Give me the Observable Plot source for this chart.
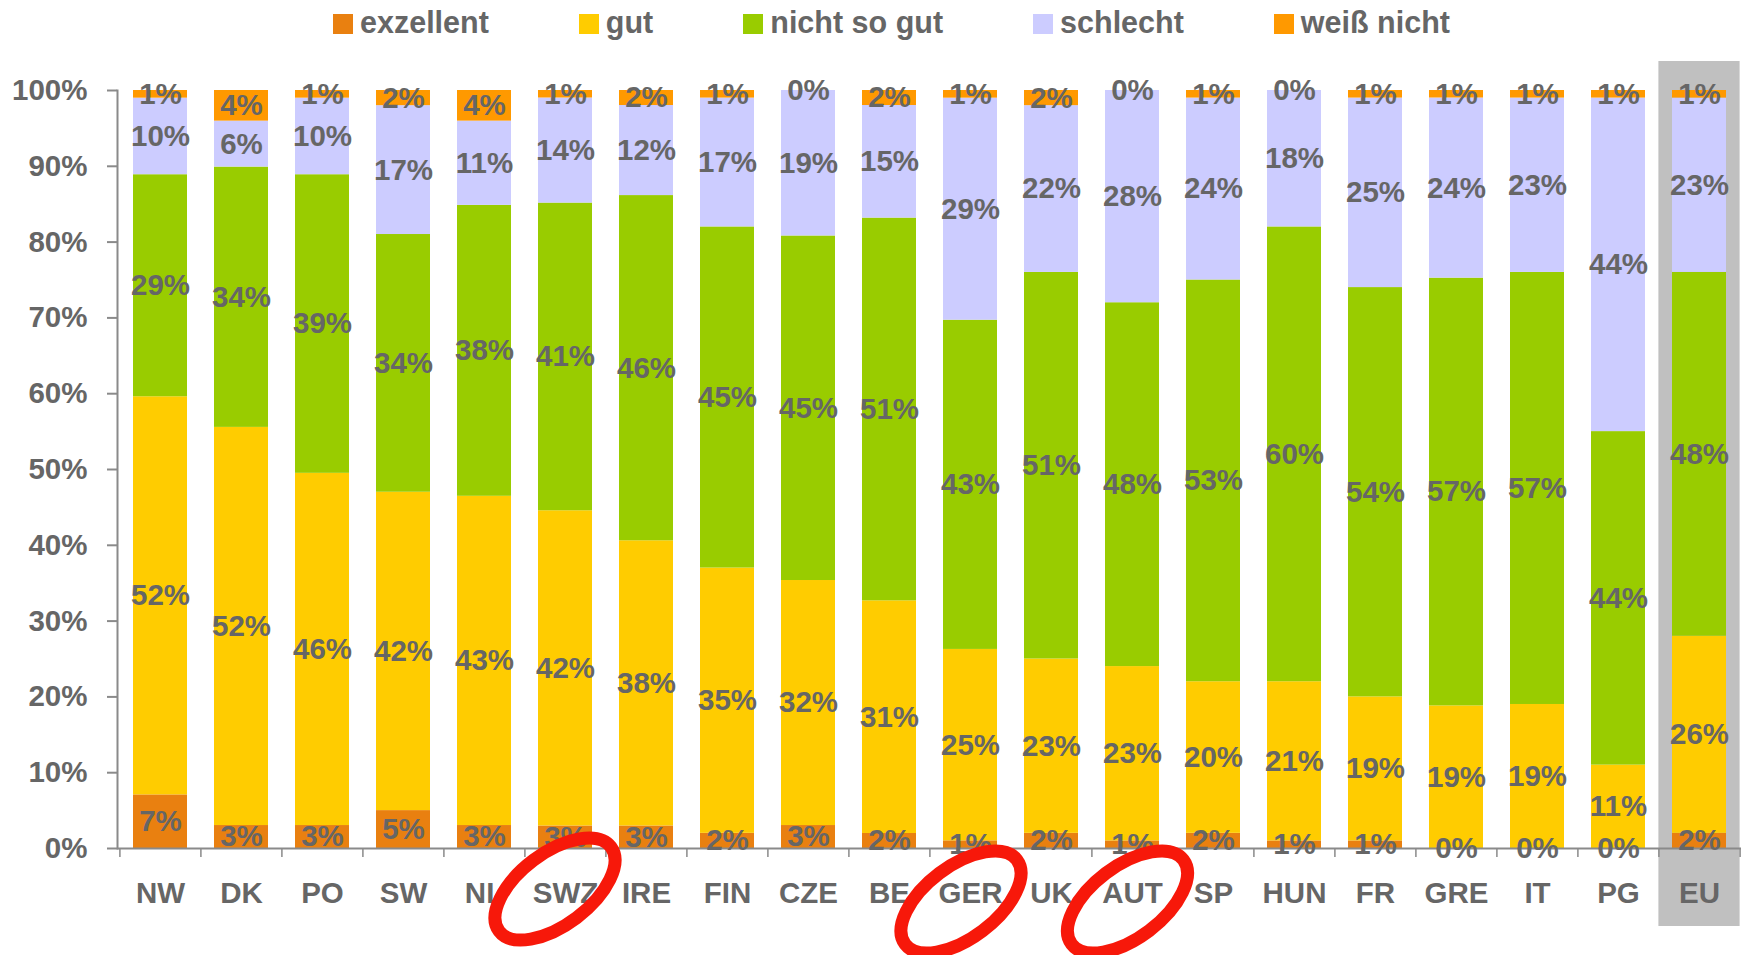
<!DOCTYPE html>
<html>
<head>
<meta charset="utf-8">
<script src="https://cdn.jsdelivr.net/npm/d3@7"></script>
<script src="https://cdn.jsdelivr.net/npm/@observablehq/plot@0.6"></script>
<style>
  body { margin: 0; background: #fff; font-family: "Liberation Sans", Arial, sans-serif; }
  #legend { position: relative; height: 45px; display: flex; align-items: center; padding-left: 333px; box-sizing: border-box; }
  .item { display: flex; align-items: center; margin-right: 90px; }
  .sw { width: 20px; height: 20px; margin-right: 7px; margin-top: 2px; }
  .lab { font-size: 30.5px; font-weight: bold; color: #666; white-space: nowrap; line-height: 1; }
  #chart svg { overflow: visible; display: block; }
</style>
</head>
<body>
<div id="legend"></div>
<div id="chart"></div>
<script>
// ---- data ----
const countries = ["NW","DK","PO","SW","NL","SWZ","IRE","FIN","CZE","BE","GER","UK","AUT","SP","HUN","FR","GRE","IT","PG","EU"];
const categories = ["exzellent","gut","nicht so gut","schlecht","weiß nicht"];
const exzellent  = [7, 3, 3, 5, 3, 3, 3, 2, 3, 2, 1, 2, 1, 2, 1, 1, 0, 0, 0, 2];
const gut        = [52,52,46,42,43,42,38,35,32,31,25,23,23,20,21,19,19,19,11,26];
const nichtSoGut = [29,34,39,34,38,41,46,45,45,51,43,51,48,53,60,54,57,57,44,48];
const schlecht   = [10, 6,10,17,11,14,12,17,19,15,29,22,28,24,18,25,24,23,44,23];
const weissNicht = [1, 4, 1, 2, 4, 1, 2, 1, 0, 2, 1, 2, 0, 1, 0, 1, 1, 1, 1, 1];
const yTicks = [0, 0.1, 0.2, 0.3, 0.4, 0.5, 0.6, 0.7, 0.8, 0.9, 1];
const highlightBand = ["EU"];
const circled = ["SWZ","GER","AUT"];

// ---- styles ----
const colors = ["#E98010","#FFCC00","#99CC00","#CCCCFF","#FF9900"];
const textColor = "#666666";
const axisColor = "#8a8a8a";
const font = '"Liberation Sans", Arial, sans-serif';

const series = [exzellent, gut, nichtSoGut, schlecht, weissNicht];
const data = countries.flatMap((c, i) => categories.map((k, j) => ({country: c, category: k, value: series[j][i]})));

// legend
const legend = d3.select("#legend");
categories.forEach((k, j) => {
  const it = legend.append("div").attr("class", "item");
  it.append("div").attr("class", "sw").style("background", colors[j]);
  it.append("div").attr("class", "lab").text(k);
});

const W = 1745, H = 910, mL = 117, mR = 4, mT = 45, mB = 107;
const step = (W - mL - mR) / countries.length;
const bw = 54;
const pad = 1 - bw / step;
const half = step / 2;
const grayInset = -(step - bw) / 2;

const plot = Plot.plot({
  width: W, height: H,
  marginLeft: mL, marginRight: mR, marginTop: mT, marginBottom: mB,
  style: {fontFamily: font, fontWeight: "bold", color: textColor, background: "transparent"},
  x: {domain: countries, paddingInner: pad, paddingOuter: pad / 2, label: null},
  y: {domain: [0, 1], label: null},
  color: {domain: categories, range: colors},
  marks: [
    Plot.cell(highlightBand, {x: d => d, fill: "#C0C0C0", insetLeft: grayInset, insetRight: grayInset, insetTop: -29, insetBottom: -78}),
    Plot.barY(data, Plot.stackY({offset: "normalize", x: "country", y: "value", fill: "category"})),
    Plot.ruleY([0], {stroke: axisColor, strokeWidth: 2}),
    Plot.frame({anchor: "left", stroke: axisColor, strokeWidth: 2}),
    Plot.ruleX(countries, {x: d => d, y1: 0, y2: 0, dx: -half, insetBottom: -9, stroke: axisColor, strokeWidth: 1.5}),
    Plot.ruleX(["EU"], {x: d => d, y1: 0, y2: 0, dx: half, insetBottom: -9, stroke: axisColor, strokeWidth: 1.5}),
    Plot.axisY({ticks: yTicks, tickFormat: d3.format(".0%"), tickSize: 10, tickPadding: 20, fontSize: 29.5, fontWeight: "bold", stroke: axisColor, strokeWidth: 2, label: null}),
    Plot.axisX({tickSize: 0, tickPadding: 34, fontSize: 29.5, fontWeight: "bold", label: null}),
    Plot.text(data, Plot.stackY({offset: "normalize", x: "country", y: "value", text: d => d.value + "%", fontSize: 29.5, fontWeight: "bold", fill: textColor}))
  ]
});
document.getElementById("chart").appendChild(plot);

// red hand-drawn-style ellipses positioned from the x and y scales
const xs = plot.scale("x"), ys = plot.scale("y");
const offsets = {SWZ: [-10, 41], GER: [-9, 54], AUT: [-4.5, 54]};
const svg = d3.select(plot);
circled.forEach(c => {
  const cx = xs.apply(c) + xs.bandwidth / 2 + offsets[c][0];
  const cy = ys.apply(0) + offsets[c][1];
  svg.append("ellipse")
    .attr("transform", `translate(${cx},${cy}) rotate(-37)`)
    .attr("rx", 70).attr("ry", 36)
    .attr("fill", "none").attr("stroke", "#F7180A").attr("stroke-width", 13);
});
</script>
</body>
</html>
